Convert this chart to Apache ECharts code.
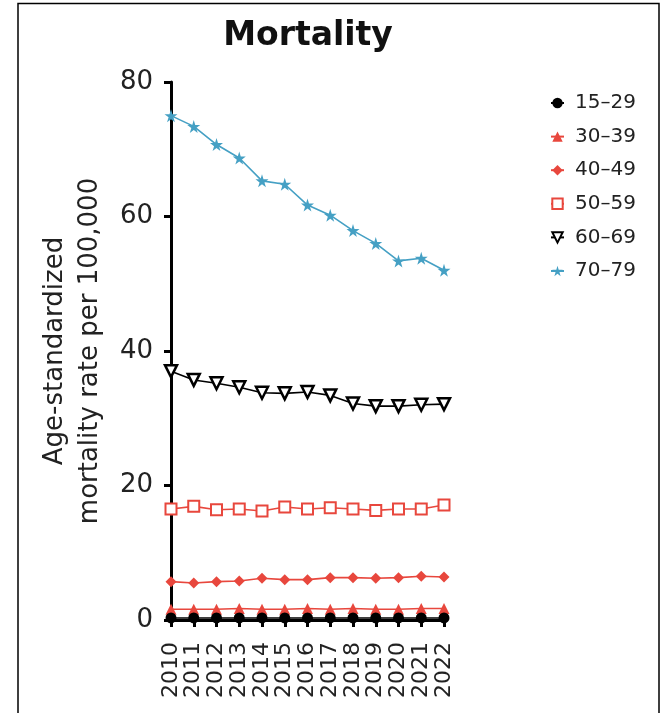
<!DOCTYPE html>
<html>
<head>
<meta charset="utf-8">
<script src="https://cdn.jsdelivr.net/npm/echarts@6/dist/echarts.min.js"></script>
<style>
  html, body { margin: 0; padding: 0; background: #fff; }
  #chart { width: 669px; height: 713px; }
</style>
</head>
<body>
<div id="chart"></div>
<script>
// Years on the x axis
const years = ['2010','2011','2012','2013','2014','2015','2016','2017','2018','2019','2020','2021','2022'];

// Age-standardized mortality per 100,000, by age group
const age15to29 = [0.3, 0.3, 0.3, 0.3, 0.3, 0.3, 0.3, 0.3, 0.3, 0.3, 0.3, 0.3, 0.3];
const age30to39 = [1.6, 1.6, 1.6, 1.7, 1.6, 1.6, 1.7, 1.6, 1.7, 1.6, 1.6, 1.7, 1.7];
const age40to49 = [5.7, 5.5, 5.7, 5.8, 6.2, 6.0, 6.0, 6.3, 6.3, 6.2, 6.3, 6.5, 6.4];
const age50to59 = [16.5, 16.9, 16.4, 16.5, 16.2, 16.8, 16.5, 16.7, 16.5, 16.3, 16.5, 16.5, 17.1];
const age60to69 = [37.0, 35.7, 35.2, 34.6, 33.8, 33.7, 33.9, 33.4, 32.2, 31.8, 31.8, 32.0, 32.1];
const age70to79 = [75.0, 73.4, 70.7, 68.7, 65.3, 64.8, 61.7, 60.2, 57.9, 56.0, 53.4, 53.8, 52.0];

const yTicks = [0, 20, 40, 60, 80];

const FONT = 'DejaVu Sans, Liberation Sans, sans-serif';
const RED = '#e8473d';
const BLUE = '#45a0c4';
const STAR = 'path://M50,0 L61,35 L98,35 L68,57 L79,91 L50,70 L21,91 L32,57 L2,35 L39,35 Z';

const chart = echarts.init(document.getElementById('chart'), null, { renderer: 'canvas' });

function lineSeries(name, data, color, symbol, size, extra) {
  return Object.assign({
    name: name,
    type: 'line',
    data: data,
    symbol: symbol,
    symbolSize: size,
    lineStyle: { color: color, width: 1.6 },
    itemStyle: { color: color },
    emphasis: { disabled: true },
    z: 3
  }, extra || {});
}

chart.setOption({
  animation: false,
  backgroundColor: '#fff',
  textStyle: { fontFamily: FONT },
  title: {
    text: 'Mortality',
    left: 303,
    textAlign: 'center',
    top: 15,
    textStyle: { fontSize: 33, fontWeight: 'bold', color: '#111', fontFamily: FONT }
  },
  grid: { left: 171, right: 225, top: 82, bottom: 93, containLabel: false },
  legend: {
    orient: 'vertical',
    left: 545,
    top: 88,
    itemWidth: 13,
    itemHeight: 13,
    itemGap: 13.6,
    textStyle: { fontSize: 20, color: '#222', fontFamily: FONT, padding: [0, 0, 0, 6] },
    data: ['15–29', '30–39', '40–49', '50–59', '60–69', '70–79']
  },
  xAxis: {
    type: 'category',
    data: years,
    boundaryGap: false,
    axisLine: { lineStyle: { color: '#000', width: 3 } },
    axisTick: { show: true, length: 7, lineStyle: { color: '#000', width: 3 }, alignWithLabel: true },
    axisLabel: { rotate: 90, fontSize: 22, color: '#222', margin: 22, interval: 0, fontFamily: FONT },
    splitLine: { show: false }
  },
  yAxis: {
    type: 'value',
    min: yTicks[0],
    max: yTicks[yTicks.length - 1],
    interval: 20,
    name: 'Age-standardized\nmortality rate per 100,000',
    nameLocation: 'middle',
    nameGap: 63,
    nameTextStyle: { fontSize: 26, color: '#222', lineHeight: 35, fontFamily: FONT },
    axisLine: { show: true, lineStyle: { color: '#000', width: 3 } },
    axisTick: { show: true, length: 7, lineStyle: { color: '#000', width: 3 } },
    axisLabel: { fontSize: 26, color: '#222', margin: 18, fontFamily: FONT },
    splitLine: { show: false }
  },
  graphic: [{
    type: 'rect',
    shape: { x: 18, y: 3.5, width: 641, height: 730 },
    style: { fill: 'none', stroke: '#000', lineWidth: 1.5 },
    silent: true,
    z: 0
  }],
  series: [
    lineSeries('70–79', age70to79, BLUE, STAR, 13),
    lineSeries('60–69', age60to69, '#000', 'triangle', 12, {
      symbolRotate: 180,
      itemStyle: { color: '#fff', borderColor: '#000', borderWidth: 2.5 }
    }),
    lineSeries('50–59', age50to59, RED, 'rect', 11, {
      itemStyle: { color: '#fff', borderColor: RED, borderWidth: 2 }
    }),
    lineSeries('40–49', age40to49, RED, 'diamond', 11),
    lineSeries('30–39', age30to39, RED, 'triangle', 11),
    lineSeries('15–29', age15to29, '#000', 'circle', 11, { z: 4 })
  ]
});
</script>
</body>
</html>
